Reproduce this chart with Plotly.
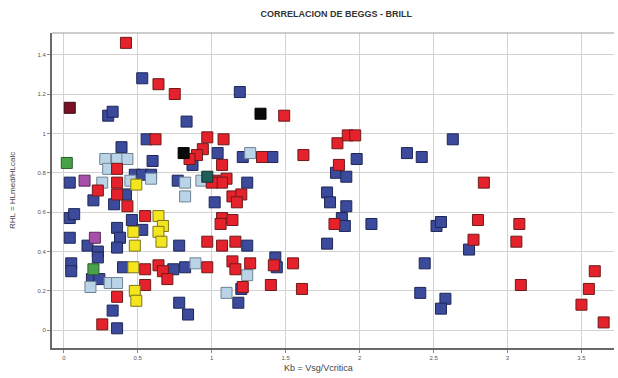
import plotly.graph_objects as go

# Kb = Vsg/Vcritica (x) vs RHL = HLmed/HLcalc (y), grouped by data set
red_x = [0.42, 0.64, 0.75, 1.49, 0.62, 0.97, 1.08, 0.94, 0.90, 0.85, 1.07, 1.34, 1.62, 1.85,
         1.92, 1.97, 1.86, 1.02, 1.10, 1.07, 1.00, 1.14, 1.20, 1.17, 1.07, 1.14, 1.06, 1.83,
         0.97, 1.07, 1.16, 0.97, 1.14, 1.16, 1.26, 1.42, 1.55, 1.21, 1.40, 1.61, 2.84, 2.80,
         3.08, 2.77, 3.06, 3.59, 3.09, 3.55, 3.50, 3.65, 0.36, 0.36, 0.23, 0.36, 0.43, 0.55,
         0.55, 0.64, 0.67, 0.70, 0.55, 0.36, 0.26]
red_y = [1.46, 1.25, 1.20, 1.09, 0.97, 0.98, 0.97, 0.92, 0.89, 0.87, 0.84, 0.88, 0.89, 0.95,
         0.99, 0.99, 0.84, 0.76, 0.77, 0.75, 0.75, 0.68, 0.69, 0.65, 0.57, 0.56, 0.54, 0.54,
         0.45, 0.43, 0.45, 0.32, 0.35, 0.31, 0.34, 0.33, 0.34, 0.22, 0.23, 0.21, 0.75, 0.56,
         0.54, 0.46, 0.45, 0.30, 0.23, 0.21, 0.13, 0.04, 0.82, 0.75, 0.71, 0.69, 0.63, 0.58,
         0.31, 0.33, 0.30, 0.26, 0.23, 0.17, 0.03]

blue_x = [0.53, 1.19, 0.30, 0.33, 0.83, 0.56, 0.39, 1.04, 1.21, 1.41, 0.87, 0.60, 0.77, 1.24,
          1.02, 1.98, 1.84, 1.91, 1.78, 1.80, 1.91, 1.88, 1.90, 2.08, 1.78, 2.63, 2.32, 2.42,
          2.52, 2.55, 2.74, 2.44, 2.41, 2.58, 2.55, 1.24, 1.43, 1.44, 1.20, 1.18, 0.78, 0.84,
          0.74, 0.82, 0.78, 0.04, 0.48, 0.53, 0.59, 0.20, 0.42, 0.34, 0.04, 0.07, 0.46, 0.36,
          0.53, 0.38, 0.36, 0.04, 0.16, 0.23, 0.23, 0.05, 0.05, 0.40, 0.19, 0.24, 0.33, 0.36]
blue_y = [1.28, 1.21, 1.09, 1.11, 1.06, 0.97, 0.93, 0.90, 0.88, 0.88, 0.84, 0.86, 0.76, 0.75,
          0.65, 0.87, 0.80, 0.78, 0.70, 0.65, 0.63, 0.57, 0.53, 0.54, 0.44, 0.97, 0.90, 0.88,
          0.53, 0.55, 0.41, 0.34, 0.19, 0.16, 0.11, 0.43, 0.37, 0.32, 0.21, 0.14, 0.14, 0.08,
          0.31, 0.32, 0.43, 0.75, 0.79, 0.79, 0.79, 0.66, 0.69, 0.64, 0.57, 0.59, 0.56, 0.52,
          0.51, 0.47, 0.42, 0.47, 0.43, 0.40, 0.37, 0.34, 0.30, 0.32, 0.26, 0.26, 0.10, 0.01]

light_x = [0.28, 0.36, 0.43, 0.30, 0.26, 0.45, 0.59, 0.82, 0.93, 0.82, 1.26, 0.89, 1.24, 1.10,
           0.18, 0.31, 0.36]
light_y = [0.87, 0.87, 0.87, 0.82, 0.75, 0.76, 0.77, 0.75, 0.76, 0.68, 0.90, 0.34, 0.28, 0.19,
           0.22, 0.24, 0.24]

yellow_x = [0.49, 0.64, 0.67, 0.47, 0.64, 0.48, 0.66, 0.47, 0.48, 0.49]
yellow_y = [0.74, 0.58, 0.53, 0.50, 0.50, 0.43, 0.45, 0.32, 0.20, 0.15]

black_x = [0.81, 1.33]
black_y = [0.90, 1.10]
darkred_x = [0.04]
darkred_y = [1.13]
green_x = [0.02, 0.20]
green_y = [0.85, 0.31]
purple_x = [0.14, 0.21]
purple_y = [0.76, 0.47]
teal_x = [0.97]
teal_y = [0.78]

groups = [
    (blue_x, blue_y, "#3c4a9c", "#1e2656"),
    (light_x, light_y, "#b9d4e6", "#6f8394"),
    (red_x, red_y, "#e5222b", "#6e1a1a"),
    (yellow_x, yellow_y, "#f3e51e", "#7f7420"),
    (black_x, black_y, "#0a0a0a", "#000000"),
    (darkred_x, darkred_y, "#7c1024", "#3a0810"),
    (green_x, green_y, "#47a347", "#2a5a2a"),
    (purple_x, purple_y, "#a64fa8", "#5a2a5a"),
    (teal_x, teal_y, "#1f5f5a", "#0e302d"),
]

fig = go.Figure()
for gx, gy, fill, edge in groups:
    fig.add_trace(go.Scatter(
        x=gx, y=gy, mode="markers",
        marker=dict(symbol="square", size=11, color=fill,
                    line=dict(color=edge, width=1)),
        showlegend=False, hoverinfo="skip",
    ))

axis_common = dict(
    showgrid=True, gridcolor="#d2d2d2", gridwidth=1,
    zeroline=False, showline=True, linecolor="#6a6a6a", linewidth=2,
    ticks="outside", ticklen=3, tickcolor="#888888",
    tickfont=dict(family="Liberation Sans, Arial, sans-serif", size=6, color="#555555"),
)

fig.update_layout(
    width=618, height=378,
    margin=dict(l=52, r=4, t=33, b=30),
    paper_bgcolor="white", plot_bgcolor="white",
    title=dict(text="<b>CORRELACION DE BEGGS - BRILL</b>",
               x=0.506, xref="paper", xanchor="center",
               y=1 - 14 / 378, yref="container", yanchor="middle",
               font=dict(family="Liberation Sans, Arial, sans-serif", size=9, color="#333333")),
    xaxis=dict(range=[-0.08, 3.72], tickvals=[0, 0.5, 1, 1.5, 2, 2.5, 3, 3.5],
               ticktext=["0", "0.5", "1", "1.5", "2", "2.5", "3", "3.5"],
               mirror=False, **axis_common),
    yaxis=dict(range=[-0.09, 1.51], tickvals=[0, 0.2, 0.4, 0.6, 0.8, 1, 1.2, 1.4],
               ticktext=["0", "0.2", "0.4", "0.6", "0.8", "1", "1.2", "1.4"],
               **axis_common),
    shapes=[dict(type="line", xref="paper", yref="paper", x0=0, x1=1, y0=1, y1=1,
                 line=dict(color="#9a9a9a", width=1))],
    annotations=[
        dict(text="Kb = Vsg/Vcritica", xref="paper", yref="paper",
             x=(318 - 52) / (618 - 56), y=-(368 - 348) / (378 - 63),
             xanchor="center", yanchor="middle", showarrow=False,
             font=dict(family="Liberation Sans, Arial, sans-serif", size=9, color="#444444")),
        dict(text="RHL = HLmed/HLcalc", xref="paper", yref="paper",
             x=-(52 - 12) / (618 - 56), y=(348 - 190) / (378 - 63),
             xanchor="center", yanchor="middle", showarrow=False, textangle=-90,
             font=dict(family="Liberation Sans, Arial, sans-serif", size=8, color="#444444")),
    ],
)

fig.write_html("out.html")
